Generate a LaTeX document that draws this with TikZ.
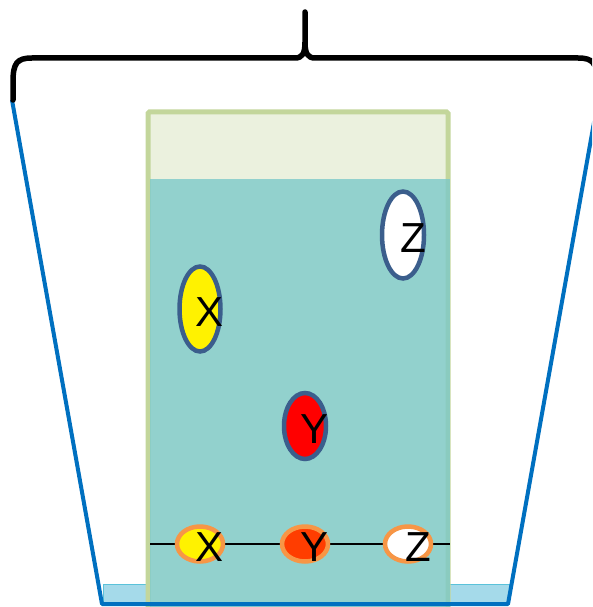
\documentclass[tikz,border=0pt]{standalone}
\usepackage{fontspec}
\setmainfont{Liberation Sans}
\usetikzlibrary{shapes.geometric}
\definecolor{beakerblue}{HTML}{0070C0}
\definecolor{waterblue}{HTML}{A5DAEA}
\definecolor{waterline}{HTML}{5BC2DA}
\definecolor{paperedge}{HTML}{C3D69B}
\definecolor{paperfill}{HTML}{EBF1DE}
\definecolor{solvent}{HTML}{7CC9C9}
\definecolor{spotedge}{HTML}{3B5E8C}
\definecolor{startedge}{HTML}{F79646}
\definecolor{startred}{HTML}{FF3D00}

\begin{document}
\begin{tikzpicture}[x=1pt, y=-1pt,
    spot/.style={ellipse, draw=spotedge, line width=4.5pt, inner sep=0pt},
    startspot/.style={ellipse, draw=startedge, line width=4.5pt, inner sep=0pt,
                      minimum width=46pt, minimum height=35pt},
    letter/.style={inner sep=0pt, font=\fontsize{42}{42}\selectfont}]
  \useasboundingbox (0,0) rectangle (592,607);
  \clip (0,0) rectangle (592,607);
  %% water at the bottom of the beaker
  \draw[fill=waterblue, draw=waterline, line width=0.8pt] (103,584) rectangle (509,604);
  %% paper strip, dry top and wet part
  \draw[paperedge, fill=paperfill, line width=5pt, rounded corners=1.5pt]
    (148,112) rectangle (448,614);
  \fill[solvent, fill opacity=0.8] (150,179) rectangle (450,607);
  %% start line
  \coordinate (lineL) at (150,544);
  \coordinate (lineR) at (450,544);
  \draw[line width=1.5pt] (lineL) -- (lineR);
  %% spots on the start line
  \foreach \txt/\cx/\col in {X/200/yellow, Y/305/startred, Z/408/white} {
    \node[startspot, fill=\col] (start\txt) at (\cx,544) {};
    \node[letter] at ([shift={(10,3)}]start\txt) {\txt};
  }
  %% spots after the run
  \foreach \txt/\cx/\cy/\w/\h/\col in {
      X/200/309/41/85/yellow,
      Z/403/235/42/87/white,
      Y/305/426/42/66/red} {
    \node[spot, fill=\col, minimum width=\w pt, minimum height=\h pt]
      (spot\txt) at (\cx,\cy) {};
    \node[letter] at ([shift={(10,3)}]spot\txt) {\txt};
  }
  %% beaker
  \coordinate (rimL) at (12,100);
  \coordinate (baseL) at (102,604);
  \coordinate (baseR) at (508,604);
  \coordinate (rimR) at (598,100);
  \draw[beakerblue, line width=4pt, line join=round] (rimL) -- (baseL) -- (baseR) -- (rimR);
  %% brace over the beaker
  \draw[line width=5.5pt, line cap=round, line join=round]
    (13,100) -- (13,82) .. controls (13,63) and (17,58) .. (32,58)
    -- (295,58) .. controls (302,58) and (305,54) .. (305,42) -- (305,12)
    -- (305,42) .. controls (305,54) and (308,58) .. (315,58)
    -- (578,58) .. controls (593,58) and (597,63) .. (597,82) -- (597,100);
\end{tikzpicture}
\end{document}
